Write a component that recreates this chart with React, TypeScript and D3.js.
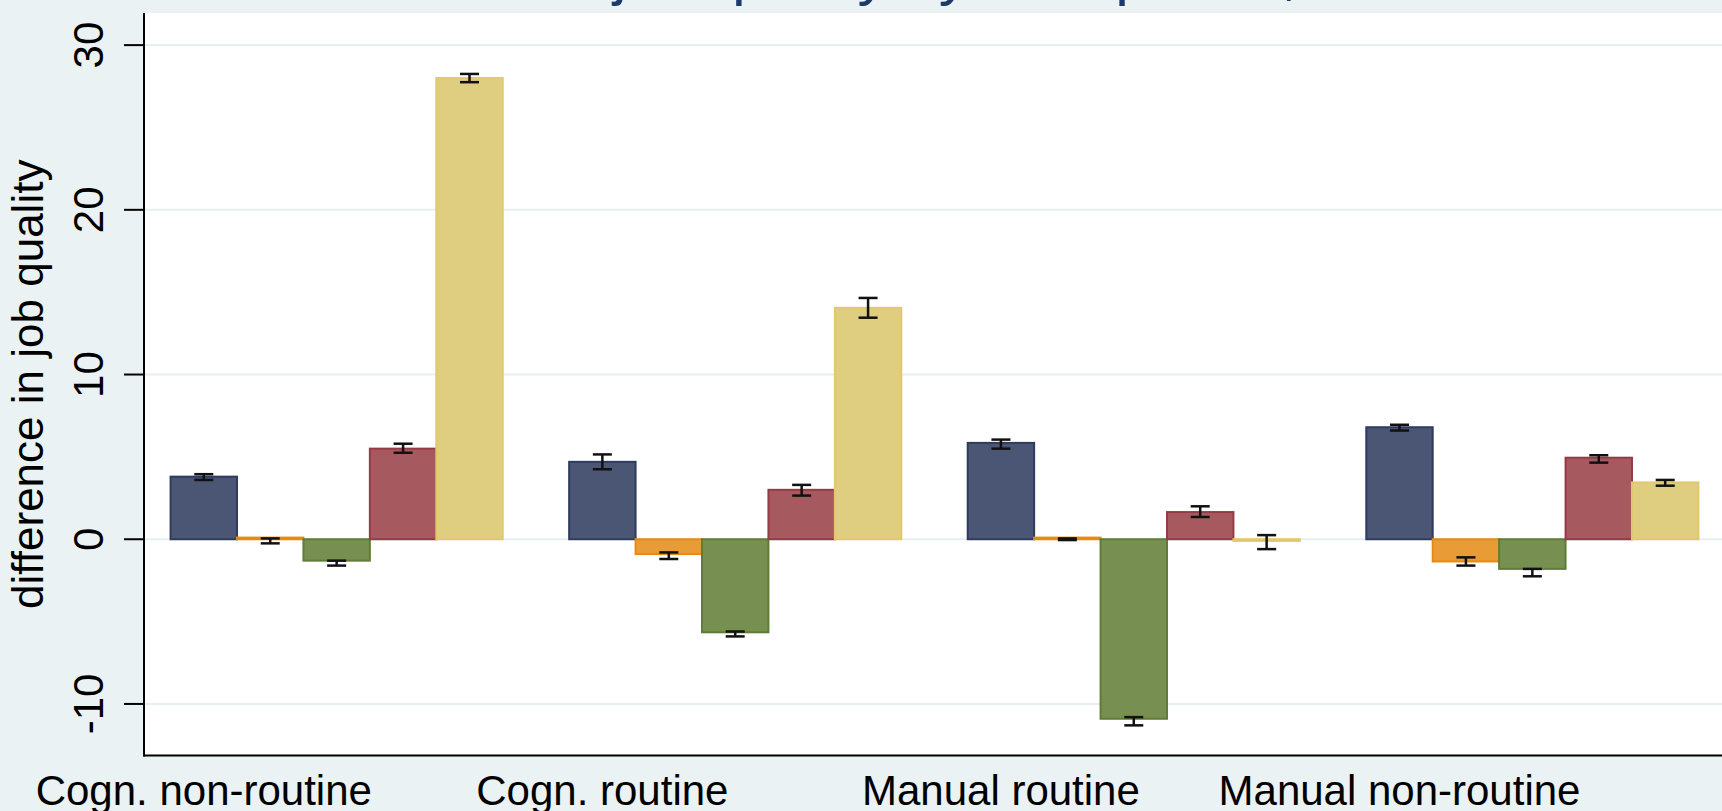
import React from "react";
import * as d3 from "d3";

const categories = ["Cogn. non-routine", "Cogn. routine", "Manual routine", "Manual non-routine"];
const seriesNames = ["s1", "s2", "s3", "s4", "s5"];

const navyVals = [3.8, 4.7, 5.85, 6.8];
const navyLo = [3.6, 4.25, 5.5, 6.6];
const navyHi = [3.95, 5.15, 6.05, 6.95];

const orangeVals = [0.1, -0.9, 0.1, -1.35];
const orangeLo = [-0.25, -1.2, -0.05, -1.6];
const orangeHi = [0.05, -0.8, 0.05, -1.1];

const greenVals = [-1.3, -5.65, -10.9, -1.8];
const greenLo = [-1.6, -5.9, -11.3, -2.25];
const greenHi = [-1.3, -5.6, -10.8, -1.8];

const maroonVals = [5.5, 3.0, 1.65, 4.95];
const maroonLo = [5.25, 2.65, 1.35, 4.65];
const maroonHi = [5.8, 3.3, 2.0, 5.1];

const khakiVals = [28.0, 14.05, -0.1, 3.45];
const khakiLo = [27.75, 13.45, -0.6, 3.25];
const khakiHi = [28.25, 14.65, 0.25, 3.6];

const yTicks = [-10, 0, 10, 20, 30];

const titleText = "Difference in job quality by occupation,";
const yTitle = "difference in job quality";

const fills = ["#4b5574", "#e99b36", "#788f52", "#a65a60", "#dfcd80"];
const strokes = ["#2e3c60", "#e88a12", "#5f7d36", "#953b46", "#e2c86c"];

const series = [
  { vals: navyVals, lo: navyLo, hi: navyHi },
  { vals: orangeVals, lo: orangeLo, hi: orangeHi },
  { vals: greenVals, lo: greenLo, hi: greenHi },
  { vals: maroonVals, lo: maroonLo, hi: maroonHi },
  { vals: khakiVals, lo: khakiLo, hi: khakiHi },
];

const W = 1722;
const H = 811;
const plotLeft = 144;
const plotRight = 1725;
const plotTop = 13;
const plotBottom = 755.5;

export default function App() {
  const y = d3.scaleLinear().domain([-13.13, 31.95]).range([plotBottom, plotTop]);
  const x0 = d3
    .scaleBand<string>()
    .domain(categories)
    .range([plotLeft, plotRight])
    .paddingInner(1 / 6)
    .paddingOuter(0.0667);
  const x1 = d3
    .scaleBand<string>()
    .domain(seriesNames)
    .range([0, x0.bandwidth()])
    .padding(0);
  const bw = x1.bandwidth();
  const font = "'Liberation Sans', Arial, Helvetica, sans-serif";

  return (
    <svg
      width={W}
      height={H}
      style={{ position: "absolute", left: 0, top: 0, display: "block" }}
    >
      <rect x={0} y={0} width={W} height={H} fill="#eaf2f3" />
      <text x={255} y={-7} fontSize={61} fontFamily={font} fill="#1c3a6c">
        {titleText}
      </text>
      <rect
        x={plotLeft}
        y={plotTop}
        width={plotRight - plotLeft}
        height={plotBottom - plotTop}
        fill="#ffffff"
      />
      {yTicks.map((t) => (
        <line
          key={"g" + t}
          x1={plotLeft}
          x2={plotRight}
          y1={y(t)}
          y2={y(t)}
          stroke="#e6eff1"
          strokeWidth={2}
        />
      ))}
      {categories.map((c, ci) => (
        <g key={c} transform={`translate(${x0(c)},0)`}>
          {series.map((s, si) => {
            const v = s.vals[ci];
            const bx = x1(seriesNames[si]) as number;
            const top = Math.min(y(v), y(0));
            const h = Math.abs(y(v) - y(0));
            const cx = bx + bw / 2;
            return (
              <g key={si}>
                <rect
                  x={bx}
                  y={top}
                  width={bw}
                  height={Math.max(h, 0.5)}
                  fill={fills[si]}
                  stroke={strokes[si]}
                  strokeWidth={2}
                />
                <line x1={cx} x2={cx} y1={y(s.lo[ci])} y2={y(s.hi[ci])} stroke="#111" strokeWidth={2.5} />
                <line x1={cx - 9.5} x2={cx + 9.5} y1={y(s.lo[ci])} y2={y(s.lo[ci])} stroke="#111" strokeWidth={2.5} />
                <line x1={cx - 9.5} x2={cx + 9.5} y1={y(s.hi[ci])} y2={y(s.hi[ci])} stroke="#111" strokeWidth={2.5} />
              </g>
            );
          })}
        </g>
      ))}
      <line x1={plotLeft} x2={plotLeft} y1={plotTop} y2={plotBottom + 1} stroke="#000" strokeWidth={2} />
      <line x1={plotLeft - 1} x2={plotRight} y1={plotBottom} y2={plotBottom} stroke="#000" strokeWidth={2} />
      {yTicks.map((t) => (
        <g key={"t" + t}>
          <line x1={plotLeft - 20} x2={plotLeft} y1={y(t)} y2={y(t)} stroke="#000" strokeWidth={2} />
          <text
            transform={`translate(103,${y(t)}) rotate(-90)`}
            textAnchor="middle"
            fontSize={42}
            fontFamily={font}
            fill="#000"
          >
            {t}
          </text>
        </g>
      ))}
      <text
        transform={`translate(43,${(plotTop + plotBottom) / 2}) rotate(-90)`}
        textAnchor="middle"
        fontSize={44}
        fontFamily={font}
        fill="#000"
      >
        {yTitle}
      </text>
      {categories.map((c) => (
        <text
          key={"l" + c}
          x={(x0(c) as number) + bw / 2}
          y={805}
          textAnchor="middle"
          fontSize={42}
          fontFamily={font}
          fill="#000"
        >
          {c}
        </text>
      ))}
    </svg>
  );
}
